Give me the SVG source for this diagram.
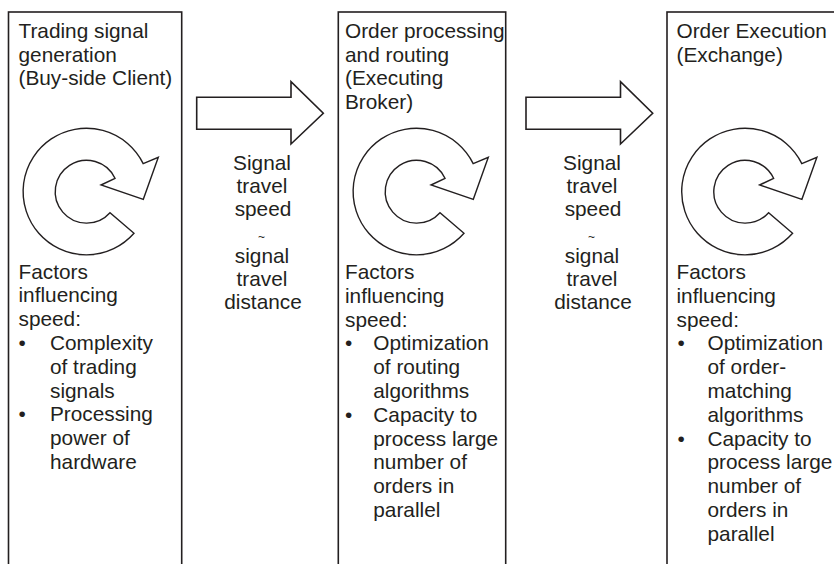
<svg xmlns="http://www.w3.org/2000/svg" xmlns:xlink="http://www.w3.org/1999/xlink" width="834" height="564" viewBox="0 0 834 564">
  <style>
    .box { fill: #ffffff; stroke: #231f20; stroke-width: 1.6; }
    .cyc { fill: #ffffff; stroke: #231f20; stroke-width: 1.4; stroke-linejoin: miter; }
    .blk { fill: #ffffff; stroke: #231f20; stroke-width: 1.6; stroke-linejoin: miter; }
    text { font-family: "Liberation Sans", Arial, Helvetica, sans-serif; font-size: 20.8px; fill: #231f20; }
    .mid { text-anchor: middle; }
    .tilde { font-size: 12px; }
  </style>
  <defs>
    <path id="cycle" class="cyc" d="M134,233.3 A63.3 63.3 0 1 1 143.2,163.6 L158.3,157.3 L143.3,199.3 L101,185 L115,178.3 A31.4 31.4 0 1 0 110,212.7 Z"/>
  </defs>
  <rect width="834" height="564" fill="#ffffff"/>

  <g id="node-client">
    <rect class="box" x="8.5" y="12" width="173.2" height="600"/>
    <text x="18.5" y="38.3">Trading signal</text>
    <text x="18.5" y="61.8">generation</text>
    <text x="18.5" y="85.3">(Buy-side Client)</text>
    <use xlink:href="#cycle"/>
    <text x="18.5" y="278.5">Factors</text>
    <text x="18.5" y="302.3">influencing</text>
    <text x="18.5" y="326.1">speed:</text>
    <text x="18.5" y="349.9">•</text>
    <text x="50" y="349.9">Complexity</text>
    <text x="50" y="373.7">of trading</text>
    <text x="50" y="397.5">signals</text>
    <text x="18.5" y="421.3">•</text>
    <text x="50" y="421.3">Processing</text>
    <text x="50" y="445.1">power of</text>
    <text x="50" y="468.9">hardware</text>
  </g>

  <g id="node-broker">
    <rect class="box" x="338.3" y="12" width="167.4" height="600"/>
    <text x="345" y="38.3">Order processing</text>
    <text x="345" y="61.8">and routing</text>
    <text x="345" y="85.3">(Executing</text>
    <text x="345" y="108.8">Broker)</text>
    <use xlink:href="#cycle" transform="translate(330,0)"/>
    <text x="345" y="279">Factors</text>
    <text x="345" y="302.8">influencing</text>
    <text x="345" y="326.6">speed:</text>
    <text x="345" y="350.4">•</text>
    <text x="373.3" y="350.4">Optimization</text>
    <text x="373.3" y="374.2">of routing</text>
    <text x="373.3" y="398">algorithms</text>
    <text x="345" y="421.8">•</text>
    <text x="373.3" y="421.8">Capacity to</text>
    <text x="373.3" y="445.6">process large</text>
    <text x="373.3" y="469.4">number of</text>
    <text x="373.3" y="493.2">orders in</text>
    <text x="373.3" y="517">parallel</text>
  </g>

  <g id="node-exchange">
    <rect class="box" x="667" y="12" width="200" height="600"/>
    <text x="676.5" y="38.3">Order Execution</text>
    <text x="676.5" y="61.8">(Exchange)</text>
    <use xlink:href="#cycle" transform="translate(658.6,0)"/>
    <text x="676.5" y="279">Factors</text>
    <text x="676.5" y="302.8">influencing</text>
    <text x="676.5" y="326.6">speed:</text>
    <text x="677.5" y="350.4">•</text>
    <text x="707.5" y="350.4">Optimization</text>
    <text x="707.5" y="374.2">of order-</text>
    <text x="707.5" y="398">matching</text>
    <text x="707.5" y="421.8">algorithms</text>
    <text x="677.5" y="445.6">•</text>
    <text x="707.5" y="445.6">Capacity to</text>
    <text x="707.5" y="469.4">process large</text>
    <text x="707.5" y="493.2">number of</text>
    <text x="707.5" y="517">orders in</text>
    <text x="707.5" y="540.8">parallel</text>
  </g>

  <g id="connectors">
    <g id="arrow-client-broker">
      <path class="blk" d="M196.7,97.3 H291 V81.7 L323.3,113.3 L291,144 V129.3 H196.7 Z"/>
      <text class="mid" x="262" y="169.8">Signal</text>
      <text class="mid" x="262" y="193.1">travel</text>
      <text class="mid" x="263" y="216.4">speed</text>
      <text class="mid tilde" x="261.5" y="240.5">~</text>
      <text class="mid" x="262" y="262.7">signal</text>
      <text class="mid" x="262" y="286">travel</text>
      <text class="mid" x="263" y="309.3">distance</text>
    </g>
    <g id="arrow-broker-exchange">
      <path class="blk" d="M526,97.3 H620.5 V81.7 L652.7,113.3 L620.5,144 V129.3 H526 Z"/>
      <text class="mid" x="592" y="169.8">Signal</text>
      <text class="mid" x="592" y="193.1">travel</text>
      <text class="mid" x="593" y="216.4">speed</text>
      <text class="mid tilde" x="591.5" y="240.5">~</text>
      <text class="mid" x="592" y="262.7">signal</text>
      <text class="mid" x="592" y="286">travel</text>
      <text class="mid" x="593" y="309.3">distance</text>
    </g>
  </g>
</svg>
